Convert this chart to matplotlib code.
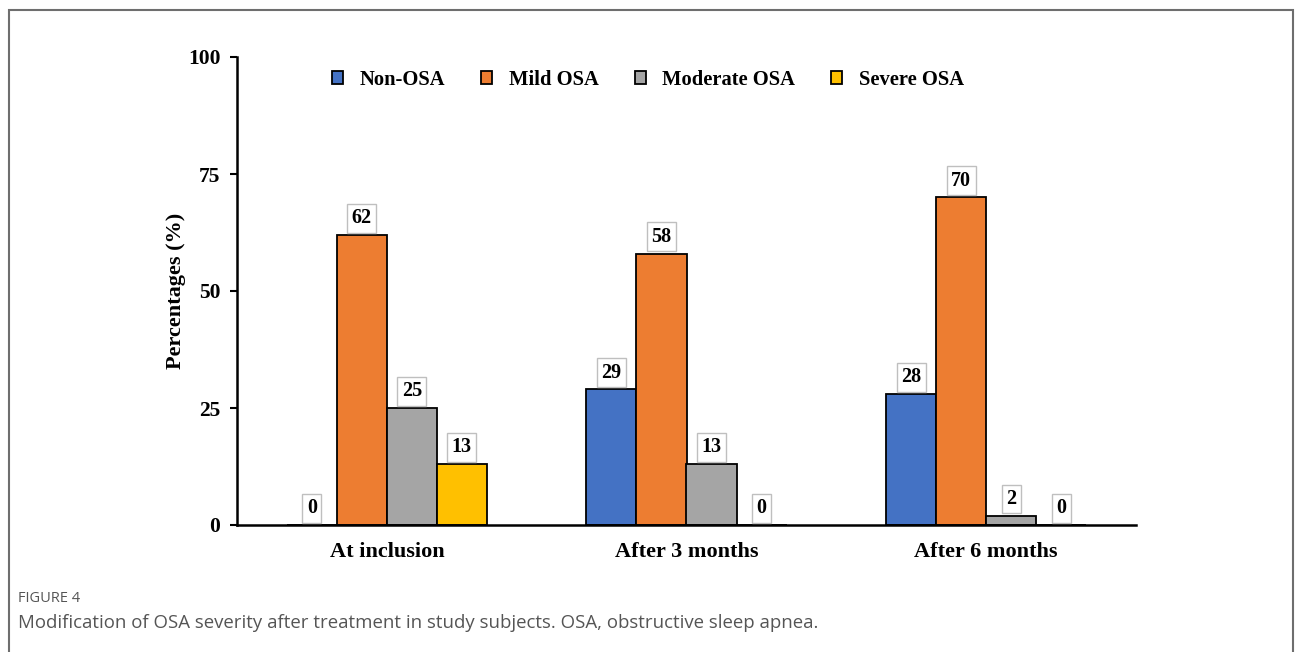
import matplotlib
matplotlib.use("Agg")
import matplotlib.pyplot as plt
from matplotlib.patches import Rectangle
import numpy as np

# Data
timepoints = ["At inclusion", "After 3 months", "After 6 months"]
severity = ["Non-OSA", "Mild OSA", "Moderate OSA", "Severe OSA"]
non_osa = [0, 29, 28]
mild_osa = [62, 58, 70]
moderate_osa = [25, 13, 2]
severe_osa = [13, 0, 0]
yticks = [0, 25, 50, 75, 100]

series = [non_osa, mild_osa, moderate_osa, severe_osa]
colors = ["#4472C4", "#ED7D31", "#A5A5A5", "#FFC000"]

serif = ["Liberation Serif", "DejaVu Serif"]

fig = plt.figure(figsize=(12.95, 6.52), dpi=100)
ax = fig.add_axes([237 / 1295, 1 - 525 / 652, (1136 - 237) / 1295, (525 - 57) / 652])

x = np.arange(len(timepoints))
width = 0.167
offsets = (np.arange(len(series)) - 1.5) * width

for vals, name, col, off in zip(series, severity, colors, offsets):
    bars = ax.bar(x + off, vals, width, color=col, edgecolor="black",
                  linewidth=1.3, label=name, zorder=2)
    for rect, v in zip(bars, vals):
        ax.annotate(f"{v}", xy=(rect.get_x() + rect.get_width() / 2, v),
                    xytext=(0, 12), textcoords="offset points",
                    ha="center", va="center", family=serif,
                    fontweight="bold", fontsize=14.5,
                    bbox=dict(boxstyle="square,pad=0.22", fc="white",
                              ec="#BFBFBF", lw=1.0))

ax.set_xlim(-0.5, 2.5)
ax.set_ylim(0, 100)
ax.set_yticks(yticks)
ax.set_yticklabels([str(t) for t in yticks], family=serif,
                   fontweight="bold", fontsize=15.5)
ax.set_xticks(x)
ax.set_xticklabels(timepoints, family=serif, fontweight="bold", fontsize=16)
ax.tick_params(axis="x", length=0, pad=12)
ax.tick_params(axis="y", length=5, width=1.5, direction="out", pad=7)
for s in ("top", "right"):
    ax.spines[s].set_visible(False)
ax.spines["left"].set_linewidth(1.8)
ax.spines["bottom"].set_linewidth(1.8)
ax.set_ylabel("Percentages (%)", family=serif, fontweight="bold",
              fontsize=16, labelpad=1)

leg = ax.legend(loc="center", bbox_to_anchor=(0.457, 0.951), ncol=4,
                frameon=False, handlelength=0.55, handleheight=0.55,
                handletextpad=0.8, columnspacing=1.75,
                prop={"family": serif, "weight": "bold", "size": 14.8})

# Outer frame and caption
fig.patches.append(Rectangle((9 / 1295, -0.2), (1293 - 9) / 1295, 0.2 + 1 - 10 / 652,
                             transform=fig.transFigure, fill=False,
                             ec="#6E6E6E", lw=1.5))
fig.text(18 / 1295, 1 - 598 / 652, "FIGURE 4", family="Open Sans",
         fontsize=10.5, color="#555555", va="center", ha="left")
fig.text(18 / 1295, 1 - 623 / 652,
         "Modification of OSA severity after treatment in study subjects. OSA, obstructive sleep apnea.",
         family="Open Sans", fontsize=13.4, color="#555555", va="center", ha="left")

fig.savefig("out.png", dpi=100)
